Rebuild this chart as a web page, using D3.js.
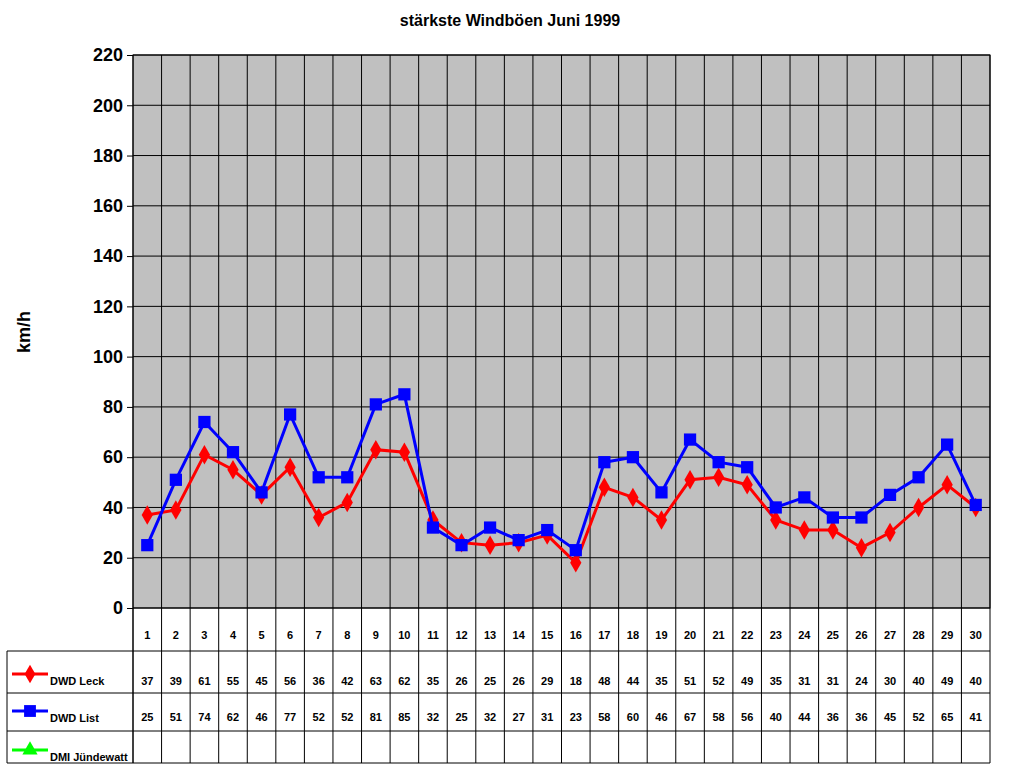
<!DOCTYPE html>
<html><head><meta charset="utf-8">
<script src="https://cdn.jsdelivr.net/npm/d3@7"></script>
<style>body{margin:0;background:#fff}text{font-family:Arial,"Liberation Sans",sans-serif;font-weight:bold}</style>
</head><body>
<svg id="c" width="1024" height="768"></svg>
<script>
const days = d3.range(1, 31);
const leck = [37,39,61,55,45,56,36,42,63,62,35,26,25,26,29,18,48,44,35,51,52,49,35,31,31,24,30,40,49,40];
const list = [25,51,74,62,46,77,52,52,81,85,32,25,32,27,31,23,58,60,46,67,58,56,40,44,36,36,45,52,65,41];
const yTicks = d3.range(0, 221, 20);
const seriesNames = ["DWD Leck", "DWD List", "DMI Jündewatt"];
const colors = ["#ff0000", "#0000ff", "#00ff00"];

const svg = d3.select("#c");
const L = 133, R = 990, T = 55, B = 608;
const colW = (R - L) / days.length;

const x = d3.scaleBand().domain(days).range([L, R]);
const y = d3.scaleLinear().domain([0, 220]).range([B, T]);

// plot area
svg.append("rect").attr("x", L).attr("y", T).attr("width", R - L).attr("height", B - T)
  .attr("fill", "#c0c0c0").attr("stroke", "#000");

// horizontal grid
svg.selectAll(".hg").data(yTicks).join("line")
  .attr("x1", L).attr("x2", R).attr("y1", d => y(d)).attr("y2", d => y(d))
  .attr("stroke", "#000").attr("stroke-width", 1);

// vertical grid (through plot and table)
svg.selectAll(".vg").data(d3.range(days.length + 1)).join("line")
  .attr("x1", i => L + i * colW).attr("x2", i => L + i * colW)
  .attr("y1", T).attr("y2", 763).attr("stroke", "#000");

// y axis ticks
const yAxis = d3.axisLeft(y).tickValues(yTicks).tickSize(6).tickPadding(4);
const ya = svg.append("g").attr("transform", `translate(${L},0)`).call(yAxis);
ya.select(".domain").remove();
ya.selectAll("text").attr("font-size", 18).attr("font-weight", "bold").attr("fill", "#000");

// table rows
const rowLines = [651, 693, 731, 763];
rowLines.forEach(ry => svg.append("line").attr("x1", 7).attr("x2", R).attr("y1", ry).attr("y2", ry).attr("stroke", "#000"));
svg.append("line").attr("x1", 7).attr("x2", 7).attr("y1", 651).attr("y2", 763).attr("stroke", "#000");
svg.append("line").attr("x1", L).attr("x2", L).attr("y1", B).attr("y2", 763).attr("stroke", "#000");

svg.selectAll(".dn").data(days).join("text")
  .attr("x", d => x(d) + colW / 2).attr("y", 639).attr("text-anchor", "middle")
  .attr("font-size", 11).text(d => d);

[leck, list].forEach((s, k) => {
  svg.selectAll(".tv" + k).data(s).join("text")
    .attr("x", (d, i) => x(days[i]) + colW / 2).attr("y", [685, 721][k])
    .attr("text-anchor", "middle").attr("font-size", 11).text(d => d);
});

// legend keys in table
const legY = [674, 711, 750];
const sym = [d3.symbolDiamond, d3.symbolSquare, d3.symbolTriangle];
seriesNames.forEach((n, k) => {
  svg.append("line").attr("x1", 12).attr("x2", 48).attr("y1", legY[k]).attr("y2", legY[k])
    .attr("stroke", colors[k]).attr("stroke-width", 3);
  svg.append("path").attr("d", d3.symbol().type(sym[k]).size(k === 1 ? 140 : 100)())
    .attr("transform", `translate(30,${legY[k]})`).attr("fill", colors[k]);
  svg.append("text").attr("x", 50).attr("y", legY[k] + 11).attr("font-size", 11).text(n);
});

// series lines
const line = d3.line().x((d, i) => x(days[i]) + colW / 2).y(d => y(d));
[leck, list].forEach((s, k) => {
  svg.append("path").datum(s).attr("d", line).attr("fill", "none")
    .attr("stroke", colors[k]).attr("stroke-width", 3);
  svg.selectAll(".m" + k).data(s).join("path")
    .attr("d", d3.symbol().type(sym[k]).size(k === 1 ? 150 : 110)())
    .attr("transform", (d, i) => `translate(${x(days[i]) + colW / 2},${y(d)})`)
    .attr("fill", colors[k]);
});

// title and axis label
svg.append("text").attr("x", 510).attr("y", 26).attr("text-anchor", "middle")
  .attr("font-size", 16).text("stärkste Windböen Juni 1999");
svg.append("text").attr("transform", "translate(30,332) rotate(-90)")
  .attr("text-anchor", "middle").attr("font-size", 18).text("km/h");
</script>
</body></html>
